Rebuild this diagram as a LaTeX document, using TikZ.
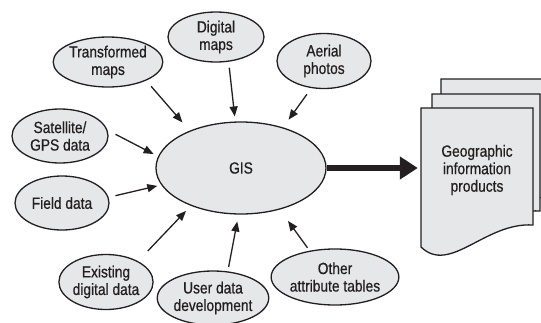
\documentclass[tikz,border=0pt]{standalone}
\usepackage{fontspec}
\setmainfont{Liberation Sans}[FakeStretch=0.85, FakeBold=0.6]
\usetikzlibrary{shapes.geometric,arrows.meta,calc}
\definecolor{ink}{HTML}{231F20}
\definecolor{paper}{HTML}{E6E7E8}
\tikzset{
  src/.style={ellipse, draw=ink, fill=paper, line width=1.3pt, inner sep=0pt,
    align=center, text=ink, font=\fontsize{16.2}{17.5}\selectfont},
  feed/.style={draw=ink, line width=1.3pt, -{Triangle[length=10pt,width=8pt]}},
  docfill/.style={draw=ink, fill=paper, line width=1.3pt, line join=miter},
  docpage/.pic={
    \path[docfill] (0,0) -- (#1,0) -- (#1,117)
      .. controls ({#1-48},114) and (29,167) .. (0,139) -- cycle;
  }
}
\begin{document}
\begin{tikzpicture}[x=1pt, y=-1pt]
\useasboundingbox (0,0) rectangle (541,322);

% stacked output sheets, back to front
\pic at (441,79) {docpage=119};
\pic at (432,94) {docpage=108};
\pic at (421,108) {docpage=112};
\node[text=ink, align=center, minimum width=112pt, minimum height=124pt,
  font=\fontsize{16.2}{17.5}\selectfont] (doc) at (477,170)
  {Geographic\\information\\products};

% central system
\node[src, minimum width=170pt, minimum height=92pt] (gis) at (241,168) {GIS};

% data sources
\node[src, minimum width=94pt, minimum height=50pt] (tm) at (108,62) {Transformed\\maps};
\node[src, minimum width=96pt, minimum height=50pt] (dm) at (216,37) {Digital\\maps};
\node[src, minimum width=94pt, minimum height=55pt] (ap) at (324,61) {Aerial\\photos};
\node[src, minimum width=96pt, minimum height=54pt] (sg) at (60,136) {Satellite/\\GPS data};
\node[src, minimum width=94pt, minimum height=54pt] (fd) at (62,203) {Field data};
\node[src, minimum width=94pt, minimum height=55pt] (ed) at (106,282) {Existing\\digital data};
\node[src, minimum width=86pt, minimum height=54pt] (ud) at (213,298) {User data\\development};
\node[src, minimum width=116pt, minimum height=56pt] (ot) at (335,277) {Other\\attribute tables};

% inputs into the GIS
\draw[feed, shorten <=7.5pt, shorten >=11pt] (tm.-26) -- (gis.144);
\draw[feed, shorten <=6pt, shorten >=5pt] (dm.-63) -- (gis.97);
\draw[feed, shorten <=7.5pt, shorten >=9.5pt] (ap.-115) -- (gis.44);
\draw[feed, shorten <=9pt, shorten >=5pt] (sg.7) -- (gis.172);
\draw[feed, shorten <=7pt, shorten >=4pt] (fd.7) -- (gis.192);
\draw[feed, shorten <=14pt, shorten >=7pt] (ed.33) -- (gis.217);
\draw[feed, shorten <=4.5pt, shorten >=7pt] (ud.61) -- (gis.267);
\draw[feed, shorten <=3.5pt, shorten >=14pt] (ot.134) -- (gis.313);

% output
\draw[draw=ink, line width=5.5pt, -{Triangle[length=18pt,width=22pt]}, shorten >=3pt]
  (gis.east) -- (gis.east -| doc.west);
\end{tikzpicture}
\end{document}
